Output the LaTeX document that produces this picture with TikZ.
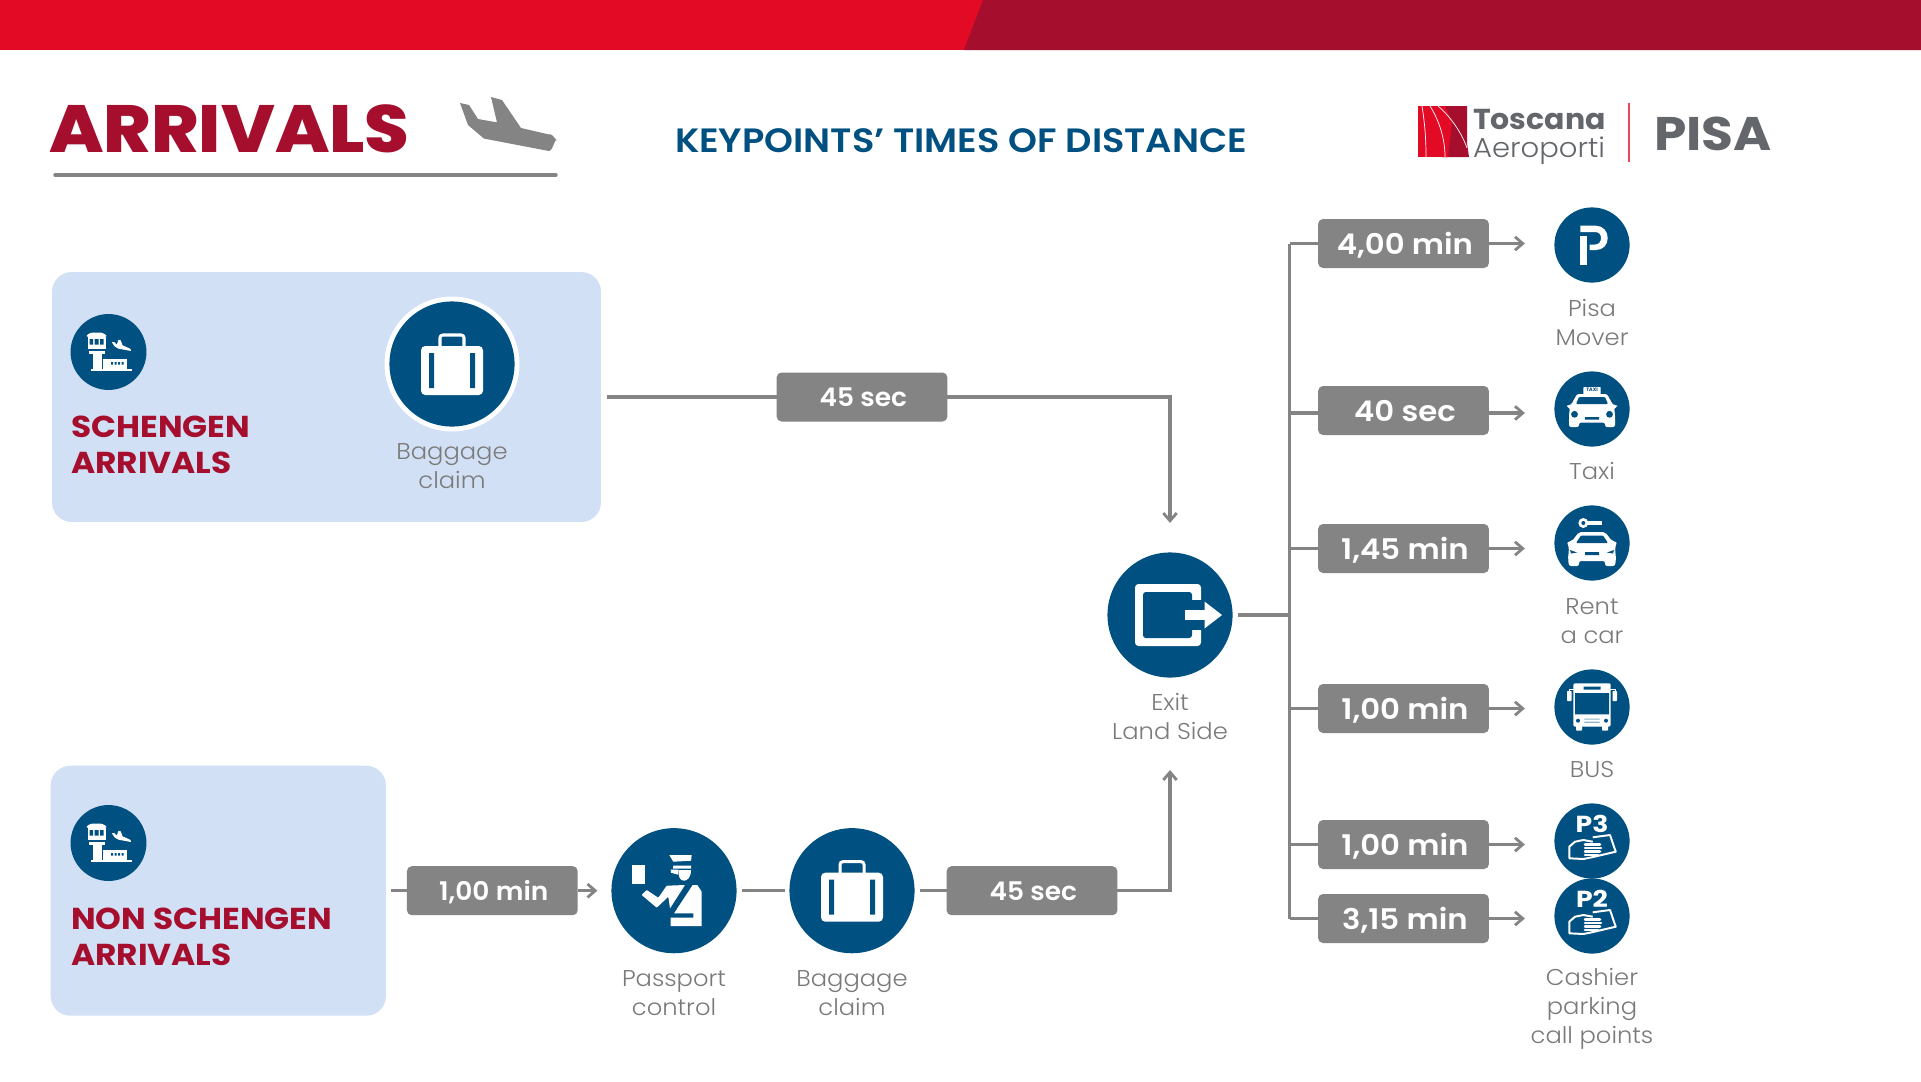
\documentclass[tikz,border=0pt]{standalone}
\usepackage{fontspec}
\setmainfont{Poppins}
\newfontfamily\pLight{Poppins Light}[FakeStretch=1.06]
\newfontfamily\pLogoL{Poppins Light}[FakeStretch=1.06]
\newfontfamily\pTitle{Poppins ExtraBold}[FakeStretch=1.08]
\newfontfamily\pSub{Poppins SemiBold}[FakeStretch=1.09]
\newfontfamily\pTimeL{Poppins SemiBold}[FakeStretch=1.03]
\newfontfamily\pTimeR{Poppins SemiBold}[FakeStretch=1.08]
\newfontfamily\pSect{Poppins Bold}[FakeStretch=1.085]
\newfontfamily\pLogoB{Poppins Bold}[FakeStretch=1.04]
\newfontfamily\pPisa{Poppins Bold}[FakeStretch=1.1]
\newfontfamily\pPark{Poppins Bold}[FakeStretch=1.15]
\newfontfamily\pTiny{Poppins Bold}
\usetikzlibrary{arrows.meta}
\definecolor{brandred}{HTML}{E30A26}
\definecolor{brandwine}{HTML}{A50E2D}
\definecolor{navy}{HTML}{005082}
\definecolor{panelblue}{HTML}{D1E0F5}
\definecolor{slategrey}{HTML}{848484}
\definecolor{logogrey}{HTML}{63666A}
\definecolor{labelgrey}{HTML}{7A7A7A}
\tikzset{
  x=0.05cm,y=-0.05cm,
  panel/.style={fill=panelblue,rounded corners=28pt,inner sep=0pt,outer sep=0pt},
  disc/.style={circle,fill=navy,inner sep=0pt,outer sep=0pt,minimum size=#1},
  timebox/.style={fill=slategrey,rounded corners=7pt,inner sep=0pt,outer sep=0pt,minimum width=243pt,minimum height=69.7pt,text=white,text depth=0pt},
  timeleft/.style={timebox,text height=28pt,font=\pTimeL\fontsize{36.5}{40}\selectfont,execute at begin node=\hspace*{4pt}},
  timeright/.style={timebox,text height=32pt,font=\pTimeR\fontsize{40.5}{44}\selectfont,execute at begin node=\hspace*{4pt}},
  lbl/.style={text=labelgrey,align=center,inner sep=0pt,anchor=base,font=\pLight\fontsize{32.5}{40.8}\selectfont},
  sect/.style={text=brandwine,align=left,inner sep=0pt,anchor=base west,font=\pSect\fontsize{43}{51}\selectfont},
  conn/.style={draw=slategrey,line width=4.7pt},
  arr/.style={conn,-{Straight Barb[length=11pt,width=19pt,line width=4pt]}},
}
\newcommand{\suitcase}{%
  \fill[white,rounded corners=6pt] (-31,-18) rectangle (31,31);
  \fill[navy] (-23,-11) rectangle (-18,24) (18,-11) rectangle (23,24);
  \draw[white,line width=4.3pt,rounded corners=4pt] (-12,-17) -- (-12,-29) -- (12,-29) -- (12,-17);
}
\newcommand{\towericon}{%
  \fill[white,rounded corners=2pt] (-22,-15) -- (-22,-17) -- (-17,-19.5) -- (-7,-19.5) -- (-2,-17) -- (-2,-15) -- cycle;
  \fill[white] (-21,-15) rectangle (-3,-3);
  \fill[navy] (-19,-13) rectangle (-15.5,-7.5) (-14,-13) rectangle (-10,-7.5) (-8.5,-13) rectangle (-5,-7.5);
  \fill[white] (-20,-1.5) rectangle (-4,2);
  \fill[white] (-16,2) rectangle (-7,18);
  \fill[white] (-18,17) rectangle (23,19);
  \fill[white] (-5.5,7) rectangle (18.5,18);
  \fill[navy] (2.5,10) rectangle (4.5,12.5) (6,10) rectangle (8,12.5) (9.5,10) rectangle (11.5,12.5) (13,10) rectangle (15,12.5);
  \fill[white,rounded corners=0.6pt] (3.3,-10) -- (5.7,-10) -- (8.3,-7.3) -- (10,-12.3) -- (12.3,-11.7) -- (14,-6.7) -- (21.7,-3.3) -- (22.7,-1) -- (10,-3.3) -- (6,-5.7) -- cycle;
}
\newcommand{\cashhand}{%
  \draw[white,line width=2.8pt,line join=round] (0.7,-3.7) -- (18,-6) -- (23.7,10.7) -- (-0.3,16.3) -- (-8.7,18) -- (-22.7,17.3) -- (-22.7,5.7) -- (-17,0.7) -- (-8.7,-1) -- (0.7,0.7);
  \foreach \yy/\xx in {3.5/8,7/9,10.5/8,14/6} \draw[white,line width=3.6pt,line cap=round] (-7,\yy) -- (\xx,\yy);
}
\begin{document}
\begin{tikzpicture}
\useasboundingbox (0,0) rectangle (1921,1081);
\fill[white] (0,0) rectangle (1921,1081);
% top bar
\fill[brandred] (0,0) rectangle (984,50);
\fill[brandwine] (983,0) -- (1921,0) -- (1921,50) -- (964,50) -- cycle;
% header
\node[inner sep=0pt,anchor=base west,text=brandwine] (title) at (49,152) {\pTitle\fontsize{95}{100}\selectfont ARRIVALS};
\fill[slategrey,rounded corners=0.5pt] (460,103) -- (469,105) -- (478,119) -- (497,122.4) -- (491,97) -- (502,100) -- (521,128) -- (549,134.5) to[out=20,in=-60] (557,141) to[out=110,in=20] (549,151) -- (484,138.6) -- (468,125) -- cycle;
\draw[slategrey,line width=4.8pt,line cap=round] (55,175) -- (556,175);
\node[inner sep=0pt,anchor=base,text=navy] (subtitle) at (961,152) {\pSub\fontsize{48}{50}\selectfont KEYPOINTS’ TIMES OF DISTANCE};
% logo
\fill[brandred] (1418,106) rectangle (1452,157);
\fill[brandwine] (1445,106) -- (1467,106) -- (1467,143) -- (1469,157) -- (1442,157) -- (1444,130) -- (1440,113) -- cycle;
\fill[brandred] (1436,106) -- (1445,106) -- (1452,122) -- (1448,157) -- (1442,157) -- cycle;
\draw[white,line width=1pt] (1422,106) .. controls (1425,125) and (1426,140) .. (1426,157);
\draw[white,line width=1pt] (1430,106) .. controls (1440,122) and (1445,140) .. (1445,157);
\draw[white,line width=1pt] (1438,106) .. controls (1452,118) and (1462,134) .. (1467,148);
\node[inner sep=0pt,anchor=base west,text=logogrey] (tosc) at (1473,129) {\pLogoB\fontsize{41}{44}\selectfont Toscana};
\node[inner sep=0pt,anchor=base west,text=logogrey] (aero) at (1473,157) {\pLogoL\fontsize{39}{44}\selectfont Aeroporti};
\draw[brandred!75,line width=2.4pt] (1629,103) -- (1629,162);
\node[inner sep=0pt,anchor=base west,text=logogrey] (pisa) at (1654,150) {\pPisa\fontsize{67}{70}\selectfont PISA};
% panels
\node[panel,minimum width=781pt,minimum height=355.6pt] (boxa) at (326.5,397) {};
\node[panel,minimum width=477pt,minimum height=355.6pt] (boxb) at (218.3,890.7) {};
% schengen panel content
\node[disc=108pt] (towa) at (108.5,352) {};
\begin{scope}[shift={(108.5,352)}]\towericon\end{scope}
\node[sect] (seca) at (71,473) {SCHENGEN\\ARRIVALS};
\node[circle,fill=white,inner sep=0pt,minimum size=192pt] (ringa) at (452,364) {};
\node[disc=178pt] (baga) at (452,364) {};
\begin{scope}[shift={(452,364)}]\suitcase\end{scope}
\node[lbl] (lbaga) at (452,488) {Baggage\\claim};
% non schengen panel content
\node[disc=108pt] (towb) at (108.5,843) {};
\begin{scope}[shift={(108.5,843)}]\towericon\end{scope}
\node[sect] (secb) at (71,965) {NON SCHENGEN\\ARRIVALS};
% timeline nodes
\node[disc=178pt] (pass) at (674,890.7) {};
\begin{scope}[shift={(674,890.7)}]
  \fill[white] (-42.3,-25.7) rectangle (-29,-6.7);
  \fill[white] (-4.7,-35.7) -- (17.7,-35.7) -- (17,-30) -- (-0.7,-29) -- cycle;
  \fill[white] (-0.7,-25) -- (17,-25) -- (17,-22) -- (-1,-22) -- cycle;
  \fill[white] (-3.3,-21) -- (4,-21) -- (4,-16) -- (-3,-18) -- cycle;
  \fill[white] (4.3,-20.7) -- (17,-20.7) .. controls (17,-13) and (13,-10) .. (10,-10) .. controls (6,-10) and (4.3,-14) .. (4.3,-20.7) -- cycle;
  \fill[white,rounded corners=1pt] (-27.3,-0.7) -- (-32.3,4.3) -- (-17.3,17) -- (-5.7,6) -- (-4,17.7) -- (11,-5.7) -- (-7.3,-5) -- (-15.7,7) -- cycle;
  \fill[white] (18.7,-5.7) -- (23.3,-5.7) -- (27.7,1) -- (27.7,35.3) -- (-3.3,35.3) -- (-3.3,27) -- (19.3,27) -- (19.3,22.7) -- (0,22.7) -- cycle;
\end{scope}
\node[lbl] (lpass) at (674,1015) {Passport\\control};
\node[disc=178pt] (bagb) at (852,890.7) {};
\begin{scope}[shift={(852,890.7)}]\suitcase\end{scope}
\node[lbl] (lbagb) at (852,1015) {Baggage\\claim};
\node[disc=178pt] (exit) at (1170,615) {};
\begin{scope}[shift={(1170,615)}]
  \fill[white,rounded corners=5pt] (-35,-31) rectangle (31,31);
  \fill[navy,rounded corners=4pt] (-27,-23) rectangle (22,23);
  \fill[navy] (18,-15) rectangle (33,15);
  \fill[white] (15,-5) rectangle (35,5);
  \fill[white] (34.5,-13.5) -- (52,0) -- (34.5,13.5) -- cycle;
\end{scope}
\node[lbl] (lexit) at (1170,739) {Exit\\Land Side};
% time boxes
\node[timeleft] (ta) at (862,397) {45 sec};
\node[timeleft] (tb) at (492.3,890.7) {1,00 min};
\node[timeleft] (tc) at (1032,890.7) {45 sec};
\node[timeright] (t1) at (1403.5,243.5) {4,00 min};
\node[timeright] (t2) at (1403.5,410.5) {40 sec};
\node[timeright] (t3) at (1403.5,548.5) {1,45 min};
\node[timeright] (t4) at (1403.5,708.5) {1,00 min};
\node[timeright] (t5) at (1403.5,844.5) {1,00 min};
\node[timeright] (t6) at (1403.5,918.5) {3,15 min};
% destinations
\node[disc=107pt] (d1) at (1592,245) {};
\begin{scope}[shift={(1592,245)}]
  \fill[white] (-11.7,-19.3) -- (4,-19.3) .. controls (11,-19.3) and (15.7,-13.5) .. (15.7,-7) .. controls (15.7,0) and (11,5) .. (4,5) -- (-2.5,5) -- (-2.5,-0.5) -- (3,-0.5) .. controls (7,-0.5) and (9,-3.5) .. (9,-7) .. controls (9,-10.5) and (7,-13) .. (3,-13) -- (-11.7,-13) -- cycle;
  \fill[white] (-11.7,-9.5) rectangle (-5,20);
\end{scope}
\node[lbl] (l1) at (1592,345) {Pisa\\Mover};
\node[disc=107pt] (d2) at (1592,409) {};
\begin{scope}[shift={(1592,409)}]
  \fill[white,rounded corners=1pt] (-8.7,-22) rectangle (8.7,-14);
  \node[inner sep=0pt,text=navy] (taxisign) at (0,-19) {\pTiny\fontsize{7}{8}\selectfont TAXI};
  \fill[white,rounded corners=3pt] (-15,-15) -- (15,-15) -- (21,-4) -- (25,-4) -- (25,-2) -- (22,-1) -- (23,5) -- (23,18) -- (13,18) -- (13,13.5) -- (-13,13.5) -- (-13,18) -- (-23,18) -- (-23,5) -- (-22,-1) -- (-25,-2) -- (-25,-4) -- (-21,-4) -- cycle;
  \fill[navy,rounded corners=1.5pt] (-13,-12) -- (13,-12) -- (16,-5) -- (-16,-5) -- cycle;
  \fill[navy] (-17.5,5.3) circle (3.4) (17.5,5.3) circle (3.4) (-7,8) rectangle (7,10.5);
\end{scope}
\node[lbl] (l2) at (1592,479) {Taxi};
\node[disc=107pt] (d3) at (1592,543) {};
\begin{scope}[shift={(1592,543)}]
  \fill[white] (-8.7,-20) circle (5);
  \fill[white] (-6,-21.8) rectangle (9.7,-18);
  \fill[navy] (-8.7,-20) circle (2);
  \fill[white,rounded corners=3pt] (-13,-11) -- (13,-11) -- (20,-2) -- (25,-1) -- (24,1.5) -- (23,5) -- (24,16) -- (23,23) -- (13,23) -- (13,18) -- (-13,18) -- (-13,23) -- (-23,23) -- (-24,16) -- (-23,5) -- (-24,1.5) -- (-25,-1) -- (-20,-2) -- cycle;
  \fill[navy,rounded corners=1.5pt] (-11,-7.5) -- (11,-7.5) -- (16,0) -- (-16,0) -- cycle;
  \fill[navy] (-22,7) -- (-15,9.5) -- (-21,10.5) -- cycle (22,7) -- (15,9.5) -- (21,10.5) -- cycle (-7,9) rectangle (7,12);
\end{scope}
\node[lbl] (l3) at (1592,643) {Rent\\a car};
\node[disc=107pt] (d4) at (1592,707) {};
\begin{scope}[shift={(1592,707)}]
  \fill[white,rounded corners=2pt] (-18.7,-23.7) rectangle (18.7,19.5);
  \fill[white,rounded corners=1pt] (-16,17) rectangle (-10,23.5) (10,17) rectangle (16,23.5);
  \fill[white,rounded corners=1pt] (-25,-16) rectangle (-20.5,-6) (20.5,-16) rectangle (25,-6);
  \draw[white,line width=1pt] (-23,-16) -- (-23,-18) -- (-18,-18) (23,-16) -- (23,-18) -- (18,-18);
  \fill[navy] (-17,-14) rectangle (17,7.3) (-8.5,-20.5) rectangle (8.5,-17.5);
  \fill[navy] (-14,13.7) circle (2) (14,13.7) circle (2);
  \fill[navy!45] (-7.7,11.5) rectangle (7.5,12.7) (-7.7,14.5) rectangle (7.5,15.8);
\end{scope}
\node[lbl] (l4) at (1592,777) {BUS};
\node[disc=107pt] (d5) at (1592,841) {};
\begin{scope}[shift={(1592,841)}]
  \node[inner sep=0pt,anchor=base,text=white] (p3t) at (0,-8.3) {\pPark\fontsize{33}{34}\selectfont P3};
  \cashhand
\end{scope}
\node[disc=107pt] (d6) at (1592,916) {};
\begin{scope}[shift={(1592,916)}]
  \node[inner sep=0pt,anchor=base,text=white] (p2t) at (0,-8.3) {\pPark\fontsize{33}{34}\selectfont P2};
  \cashhand
\end{scope}
\node[lbl] (l6) at (1592,1043) {Cashier\\parking\\call points};
% connectors
\coordinate (trunk) at (1289.6,615);
\draw[conn,shorten <=8.5pt] (boxa.east) -- (ta.west);
\draw[arr,shorten >=42pt] (ta.east) -| (exit.north);
\draw[conn,shorten <=7pt] (boxb.east) -- (tb.west);
\draw[arr,shorten >=20pt] (tb.east) -- (pass.west);
\draw[conn,shorten <=8pt,shorten >=6pt] (pass.east) -- (bagb.west);
\draw[conn,shorten <=8pt] (bagb.east) -- (tc.west);
\draw[arr,shorten >=131.6pt] (tc.east) -| (exit.south);
\draw[conn,shorten <=8pt] (exit.east) -- (trunk);
\draw[conn,line cap=butt] (trunk |- t1.west) -- (trunk |- t6.west);
\foreach \b/\d/\off in {t1/d1/0,t2/d2/-3.5,t3/d3/0,t4/d4/0,t5/d5/0,t6/d6/0}{
  \draw[conn] ([yshift=\off pt]trunk |- \b.west) -- ([yshift=\off pt]\b.west);
  \draw[arr,shorten >=42pt] ([yshift=\off pt]\b.east) -- ([yshift=\off pt]\b.east -| \d.west);
}
\end{tikzpicture}
\end{document}
